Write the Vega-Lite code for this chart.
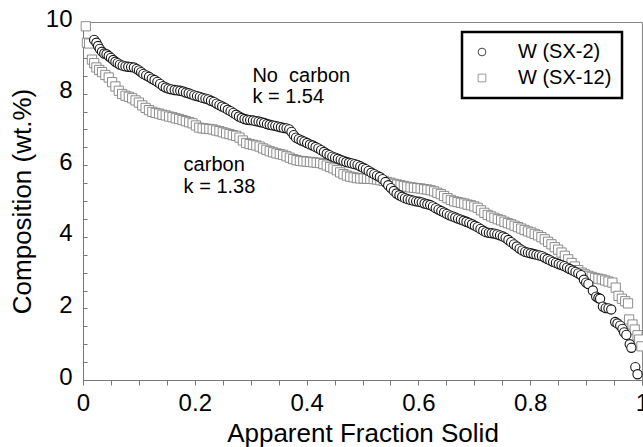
{
  "$schema": "https://vega.github.io/schema/vega-lite/v6.json",
  "width": 559,
  "height": 358,
  "autosize": "none",
  "padding": {"left": 83, "top": 22, "right": 1, "bottom": 67},
  "background": "white",
  "config": {
    "view": {"stroke": "#888", "strokeWidth": 1},
    "font": "Liberation Sans",
    "legend": {"strokeWidth": 2.5},
    "axis": {"grid": false, "domainColor": "#777", "tickColor": "#777", "labelColor": "black", "titleColor": "black", "labelFont": "Liberation Sans", "titleFont": "Liberation Sans", "titleFontWeight": "normal"}
  },
  "datasets": {
    "sx2": [
      {"fs":0.020,"wt":9.50},{"fs":0.024,"wt":9.42},{"fs":0.027,"wt":9.33},{"fs":0.030,"wt":9.25},{"fs":0.034,"wt":9.17},{"fs":0.038,"wt":9.12},{"fs":0.042,"wt":9.10},{"fs":0.046,"wt":9.05},{"fs":0.050,"wt":9.00},{"fs":0.054,"wt":8.94},{"fs":0.058,"wt":8.89},{"fs":0.062,"wt":8.85},{"fs":0.066,"wt":8.81},{"fs":0.071,"wt":8.78},{"fs":0.076,"wt":8.76},{"fs":0.081,"wt":8.75},{"fs":0.086,"wt":8.74},{"fs":0.091,"wt":8.73},{"fs":0.096,"wt":8.69},{"fs":0.100,"wt":8.65},{"fs":0.104,"wt":8.60},{"fs":0.108,"wt":8.55},{"fs":0.113,"wt":8.51},{"fs":0.118,"wt":8.47},{"fs":0.123,"wt":8.42},{"fs":0.128,"wt":8.38},{"fs":0.133,"wt":8.33},{"fs":0.138,"wt":8.27},{"fs":0.143,"wt":8.21},{"fs":0.148,"wt":8.17},{"fs":0.153,"wt":8.14},{"fs":0.158,"wt":8.12},{"fs":0.164,"wt":8.10},{"fs":0.169,"wt":8.09},{"fs":0.174,"wt":8.08},{"fs":0.179,"wt":8.06},{"fs":0.184,"wt":8.03},{"fs":0.189,"wt":8.01},{"fs":0.194,"wt":7.98},{"fs":0.199,"wt":7.95},{"fs":0.204,"wt":7.93},{"fs":0.209,"wt":7.91},{"fs":0.214,"wt":7.88},{"fs":0.219,"wt":7.86},{"fs":0.224,"wt":7.84},{"fs":0.229,"wt":7.80},{"fs":0.234,"wt":7.77},{"fs":0.239,"wt":7.72},{"fs":0.244,"wt":7.68},{"fs":0.249,"wt":7.64},{"fs":0.254,"wt":7.60},{"fs":0.259,"wt":7.55},{"fs":0.264,"wt":7.51},{"fs":0.269,"wt":7.46},{"fs":0.274,"wt":7.41},{"fs":0.279,"wt":7.36},{"fs":0.284,"wt":7.32},{"fs":0.289,"wt":7.29},{"fs":0.294,"wt":7.27},{"fs":0.299,"wt":7.26},{"fs":0.304,"wt":7.25},{"fs":0.309,"wt":7.23},{"fs":0.314,"wt":7.22},{"fs":0.319,"wt":7.20},{"fs":0.324,"wt":7.18},{"fs":0.329,"wt":7.15},{"fs":0.334,"wt":7.13},{"fs":0.339,"wt":7.11},{"fs":0.344,"wt":7.10},{"fs":0.349,"wt":7.08},{"fs":0.354,"wt":7.06},{"fs":0.359,"wt":7.04},{"fs":0.364,"wt":7.03},{"fs":0.369,"wt":7.00},{"fs":0.373,"wt":6.93},{"fs":0.377,"wt":6.84},{"fs":0.381,"wt":6.77},{"fs":0.386,"wt":6.73},{"fs":0.391,"wt":6.69},{"fs":0.396,"wt":6.66},{"fs":0.401,"wt":6.62},{"fs":0.406,"wt":6.58},{"fs":0.411,"wt":6.55},{"fs":0.416,"wt":6.51},{"fs":0.421,"wt":6.47},{"fs":0.426,"wt":6.42},{"fs":0.431,"wt":6.37},{"fs":0.436,"wt":6.32},{"fs":0.441,"wt":6.28},{"fs":0.446,"wt":6.24},{"fs":0.451,"wt":6.21},{"fs":0.456,"wt":6.18},{"fs":0.461,"wt":6.15},{"fs":0.466,"wt":6.12},{"fs":0.471,"wt":6.09},{"fs":0.476,"wt":6.07},{"fs":0.481,"wt":6.05},{"fs":0.486,"wt":6.03},{"fs":0.491,"wt":6.01},{"fs":0.496,"wt":5.97},{"fs":0.501,"wt":5.93},{"fs":0.506,"wt":5.89},{"fs":0.511,"wt":5.84},{"fs":0.516,"wt":5.79},{"fs":0.521,"wt":5.75},{"fs":0.526,"wt":5.71},{"fs":0.531,"wt":5.67},{"fs":0.536,"wt":5.61},{"fs":0.541,"wt":5.53},{"fs":0.546,"wt":5.44},{"fs":0.551,"wt":5.36},{"fs":0.556,"wt":5.28},{"fs":0.561,"wt":5.21},{"fs":0.566,"wt":5.16},{"fs":0.571,"wt":5.12},{"fs":0.576,"wt":5.08},{"fs":0.581,"wt":5.05},{"fs":0.586,"wt":5.03},{"fs":0.591,"wt":5.01},{"fs":0.596,"wt":4.99},{"fs":0.601,"wt":4.98},{"fs":0.606,"wt":4.96},{"fs":0.611,"wt":4.93},{"fs":0.616,"wt":4.91},{"fs":0.621,"wt":4.89},{"fs":0.626,"wt":4.85},{"fs":0.631,"wt":4.80},{"fs":0.636,"wt":4.76},{"fs":0.641,"wt":4.72},{"fs":0.646,"wt":4.68},{"fs":0.651,"wt":4.64},{"fs":0.656,"wt":4.60},{"fs":0.661,"wt":4.57},{"fs":0.666,"wt":4.54},{"fs":0.671,"wt":4.51},{"fs":0.676,"wt":4.48},{"fs":0.681,"wt":4.45},{"fs":0.686,"wt":4.42},{"fs":0.691,"wt":4.39},{"fs":0.696,"wt":4.35},{"fs":0.701,"wt":4.31},{"fs":0.706,"wt":4.27},{"fs":0.711,"wt":4.22},{"fs":0.716,"wt":4.17},{"fs":0.721,"wt":4.13},{"fs":0.726,"wt":4.11},{"fs":0.731,"wt":4.10},{"fs":0.736,"wt":4.09},{"fs":0.741,"wt":4.07},{"fs":0.746,"wt":4.04},{"fs":0.751,"wt":4.01},{"fs":0.756,"wt":3.97},{"fs":0.761,"wt":3.91},{"fs":0.766,"wt":3.85},{"fs":0.771,"wt":3.79},{"fs":0.776,"wt":3.73},{"fs":0.781,"wt":3.67},{"fs":0.786,"wt":3.62},{"fs":0.791,"wt":3.58},{"fs":0.796,"wt":3.56},{"fs":0.801,"wt":3.54},{"fs":0.806,"wt":3.52},{"fs":0.811,"wt":3.50},{"fs":0.816,"wt":3.48},{"fs":0.821,"wt":3.46},{"fs":0.826,"wt":3.42},{"fs":0.831,"wt":3.38},{"fs":0.836,"wt":3.34},{"fs":0.841,"wt":3.30},{"fs":0.846,"wt":3.27},{"fs":0.851,"wt":3.24},{"fs":0.856,"wt":3.21},{"fs":0.861,"wt":3.18},{"fs":0.866,"wt":3.14},{"fs":0.871,"wt":3.10},{"fs":0.876,"wt":3.06},{"fs":0.881,"wt":3.02},{"fs":0.886,"wt":2.98},{"fs":0.891,"wt":2.93},{"fs":0.896,"wt":2.80},{"fs":0.900,"wt":2.72},{"fs":0.904,"wt":2.68},{"fs":0.912,"wt":2.50},{"fs":0.918,"wt":2.33},{"fs":0.922,"wt":2.29},{"fs":0.925,"wt":2.27},{"fs":0.930,"wt":2.05},{"fs":0.935,"wt":2.01},{"fs":0.940,"wt":2.00},{"fs":0.945,"wt":1.97},{"fs":0.952,"wt":1.62},{"fs":0.956,"wt":1.58},{"fs":0.961,"wt":1.52},{"fs":0.965,"wt":1.43},{"fs":0.968,"wt":1.33},{"fs":0.972,"wt":1.26},{"fs":0.978,"wt":1.00},{"fs":0.981,"wt":0.90},{"fs":0.988,"wt":0.36},{"fs":0.992,"wt":0.16}
    ],
    "sx12": [
      {"fs":0.005,"wt":9.88},{"fs":0.007,"wt":9.42},{"fs":0.011,"wt":9.40},{"fs":0.016,"wt":8.95},{"fs":0.020,"wt":8.85},{"fs":0.024,"wt":8.73},{"fs":0.029,"wt":8.66},{"fs":0.034,"wt":8.60},{"fs":0.040,"wt":8.52},{"fs":0.046,"wt":8.45},{"fs":0.052,"wt":8.32},{"fs":0.058,"wt":8.20},{"fs":0.064,"wt":8.08},{"fs":0.070,"wt":7.99},{"fs":0.076,"wt":7.94},{"fs":0.082,"wt":7.91},{"fs":0.088,"wt":7.87},{"fs":0.094,"wt":7.81},{"fs":0.100,"wt":7.75},{"fs":0.106,"wt":7.67},{"fs":0.112,"wt":7.60},{"fs":0.118,"wt":7.54},{"fs":0.124,"wt":7.49},{"fs":0.130,"wt":7.46},{"fs":0.136,"wt":7.44},{"fs":0.142,"wt":7.41},{"fs":0.148,"wt":7.39},{"fs":0.154,"wt":7.36},{"fs":0.160,"wt":7.34},{"fs":0.166,"wt":7.31},{"fs":0.172,"wt":7.29},{"fs":0.178,"wt":7.26},{"fs":0.184,"wt":7.23},{"fs":0.190,"wt":7.20},{"fs":0.196,"wt":7.17},{"fs":0.202,"wt":7.11},{"fs":0.208,"wt":7.05},{"fs":0.214,"wt":7.03},{"fs":0.220,"wt":7.02},{"fs":0.226,"wt":7.01},{"fs":0.232,"wt":7.00},{"fs":0.238,"wt":6.97},{"fs":0.244,"wt":6.95},{"fs":0.250,"wt":6.92},{"fs":0.256,"wt":6.89},{"fs":0.262,"wt":6.87},{"fs":0.268,"wt":6.84},{"fs":0.274,"wt":6.82},{"fs":0.280,"wt":6.77},{"fs":0.286,"wt":6.69},{"fs":0.292,"wt":6.62},{"fs":0.298,"wt":6.59},{"fs":0.304,"wt":6.57},{"fs":0.310,"wt":6.55},{"fs":0.316,"wt":6.52},{"fs":0.322,"wt":6.47},{"fs":0.328,"wt":6.43},{"fs":0.334,"wt":6.39},{"fs":0.340,"wt":6.36},{"fs":0.346,"wt":6.33},{"fs":0.352,"wt":6.31},{"fs":0.358,"wt":6.29},{"fs":0.364,"wt":6.25},{"fs":0.370,"wt":6.21},{"fs":0.376,"wt":6.17},{"fs":0.382,"wt":6.14},{"fs":0.388,"wt":6.12},{"fs":0.394,"wt":6.11},{"fs":0.400,"wt":6.10},{"fs":0.406,"wt":6.09},{"fs":0.412,"wt":6.08},{"fs":0.418,"wt":6.07},{"fs":0.424,"wt":6.06},{"fs":0.430,"wt":6.03},{"fs":0.436,"wt":5.99},{"fs":0.442,"wt":5.95},{"fs":0.448,"wt":5.91},{"fs":0.454,"wt":5.86},{"fs":0.460,"wt":5.80},{"fs":0.466,"wt":5.75},{"fs":0.472,"wt":5.71},{"fs":0.478,"wt":5.68},{"fs":0.484,"wt":5.66},{"fs":0.490,"wt":5.64},{"fs":0.496,"wt":5.63},{"fs":0.502,"wt":5.63},{"fs":0.508,"wt":5.62},{"fs":0.514,"wt":5.62},{"fs":0.520,"wt":5.61},{"fs":0.526,"wt":5.60},{"fs":0.532,"wt":5.58},{"fs":0.538,"wt":5.56},{"fs":0.544,"wt":5.53},{"fs":0.550,"wt":5.51},{"fs":0.556,"wt":5.48},{"fs":0.562,"wt":5.46},{"fs":0.568,"wt":5.44},{"fs":0.574,"wt":5.42},{"fs":0.580,"wt":5.40},{"fs":0.586,"wt":5.38},{"fs":0.592,"wt":5.37},{"fs":0.598,"wt":5.36},{"fs":0.604,"wt":5.35},{"fs":0.610,"wt":5.33},{"fs":0.616,"wt":5.32},{"fs":0.622,"wt":5.30},{"fs":0.628,"wt":5.27},{"fs":0.634,"wt":5.23},{"fs":0.640,"wt":5.19},{"fs":0.646,"wt":5.14},{"fs":0.652,"wt":5.08},{"fs":0.658,"wt":5.03},{"fs":0.664,"wt":4.99},{"fs":0.670,"wt":4.97},{"fs":0.676,"wt":4.95},{"fs":0.682,"wt":4.93},{"fs":0.688,"wt":4.90},{"fs":0.694,"wt":4.88},{"fs":0.700,"wt":4.85},{"fs":0.706,"wt":4.81},{"fs":0.712,"wt":4.74},{"fs":0.718,"wt":4.67},{"fs":0.724,"wt":4.61},{"fs":0.730,"wt":4.57},{"fs":0.736,"wt":4.53},{"fs":0.742,"wt":4.49},{"fs":0.748,"wt":4.46},{"fs":0.754,"wt":4.42},{"fs":0.760,"wt":4.38},{"fs":0.766,"wt":4.35},{"fs":0.772,"wt":4.31},{"fs":0.778,"wt":4.27},{"fs":0.784,"wt":4.23},{"fs":0.790,"wt":4.19},{"fs":0.796,"wt":4.15},{"fs":0.802,"wt":4.12},{"fs":0.808,"wt":4.08},{"fs":0.814,"wt":4.04},{"fs":0.820,"wt":3.99},{"fs":0.826,"wt":3.93},{"fs":0.832,"wt":3.86},{"fs":0.838,"wt":3.79},{"fs":0.844,"wt":3.71},{"fs":0.850,"wt":3.64},{"fs":0.856,"wt":3.56},{"fs":0.862,"wt":3.47},{"fs":0.868,"wt":3.37},{"fs":0.874,"wt":3.27},{"fs":0.880,"wt":3.17},{"fs":0.886,"wt":3.07},{"fs":0.892,"wt":3.00},{"fs":0.898,"wt":2.95},{"fs":0.904,"wt":2.91},{"fs":0.910,"wt":2.88},{"fs":0.916,"wt":2.85},{"fs":0.922,"wt":2.83},{"fs":0.928,"wt":2.81},{"fs":0.934,"wt":2.78},{"fs":0.940,"wt":2.75},{"fs":0.947,"wt":2.72},{"fs":0.953,"wt":2.58},{"fs":0.958,"wt":2.35},{"fs":0.964,"wt":2.27},{"fs":0.970,"wt":2.20},{"fs":0.975,"wt":2.14},{"fs":0.977,"wt":1.69},{"fs":0.983,"wt":1.55},{"fs":0.987,"wt":1.41},{"fs":0.992,"wt":1.25},{"fs":0.995,"wt":1.13},{"fs":0.999,"wt":0.94}
    ],
    "notes": [
      {"fs":0.303,"wt":8.50,"label":"No\u00a0 carbon"},
      {"fs":0.303,"wt":7.91,"label":"k = 1.54"},
      {"fs":0.180,"wt":6.01,"label":"carbon"},
      {"fs":0.180,"wt":5.40,"label":"k = 1.38"}
    ]
  },
  "encoding": {
    "x": {"field": "fs", "type": "quantitative",
      "scale": {"domain": [0, 1], "nice": false, "zero": false},
      "axis": {"title": "Apparent Fraction Solid", "values": [0,0.05,0.1,0.15,0.2,0.25,0.3,0.35,0.4,0.45,0.5,0.55,0.6,0.65,0.7,0.75,0.8,0.85,0.9,0.95,1],
        "labelExpr": "abs(datum.value*5 - round(datum.value*5)) < 0.001 ? (datum.value == 0 ? '0' : datum.value == 1 ? '1' : format(datum.value, '.1f')) : ''",
        "labelFontSize": 24, "labelPadding": 6, "tickSize": 5, "labelFlush": false, "labelOverlap": false,
        "titleFontSize": 26, "titleX": 279.5, "titleY": 61, "titleBaseline": "alphabetic", "titleAlign": "center"}},
    "y": {"field": "wt", "type": "quantitative",
      "scale": {"domain": [0, 10], "nice": false},
      "axis": {"title": "Composition (wt.%)", "values": [0,0.5,1,1.5,2,2.5,3,3.5,4,4.5,5,5.5,6,6.5,7,7.5,8,8.5,9,9.5,10],
        "labelExpr": "datum.value % 2 == 0 ? format(datum.value, 'd') : ''",
        "labelFontSize": 24, "labelPadding": 15, "tickSize": -4, "labelOverlap": false, "labelOffset": -3,
        "titleFontSize": 26, "titleX": -61, "titleY": 179, "titleBaseline": "middle", "titleAlign": "center", "titleAngle": -90}}
  },
  "layer": [
    {
      "data": {"name": "sx12"},
      "transform": [{"calculate": "'W (SX-12)'", "as": "series"}],
      "mark": {"type": "point", "filled": false, "fill": "white", "fillOpacity": 1, "strokeWidth": 0.9, "size": 85, "opacity": 1},
      "encoding": {
        "shape": {"field": "series", "type": "nominal", "scale": {"domain": ["W (SX-2)", "W (SX-12)"], "range": ["circle", "square"]}, "title": null},
        "stroke": {"field": "series", "type": "nominal", "scale": {"domain": ["W (SX-2)", "W (SX-12)"], "range": ["#151515", "#808080"]}, "title": null,
          "legend": {"orient": "none", "legendX": 379, "legendY": 10, "padding": 10, "symbolOffset": 0, "labelOffset": 26, "rowPadding": 6,
            "labelFontSize": 20, "labelFont": "Liberation Sans", "labelColor": "black", "symbolSize": 60, "symbolStrokeWidth": 0.8,
            "strokeColor": "black", "fillColor": "white", "symbolFillColor": "white"}}
      }
    },
    {
      "data": {"name": "sx2"},
      "transform": [{"calculate": "'W (SX-2)'", "as": "series"}],
      "mark": {"type": "point", "filled": false, "fill": "white", "fillOpacity": 1, "strokeWidth": 1.1, "size": 85, "opacity": 1},
      "encoding": {
        "shape": {"field": "series", "type": "nominal"},
        "stroke": {"field": "series", "type": "nominal"}
      }
    },
    {
      "data": {"name": "notes"},
      "mark": {"type": "text", "align": "left", "baseline": "middle", "fontSize": 20, "font": "Liberation Sans", "color": "black"},
      "encoding": {"text": {"field": "label"}}
    }
  ]
}
